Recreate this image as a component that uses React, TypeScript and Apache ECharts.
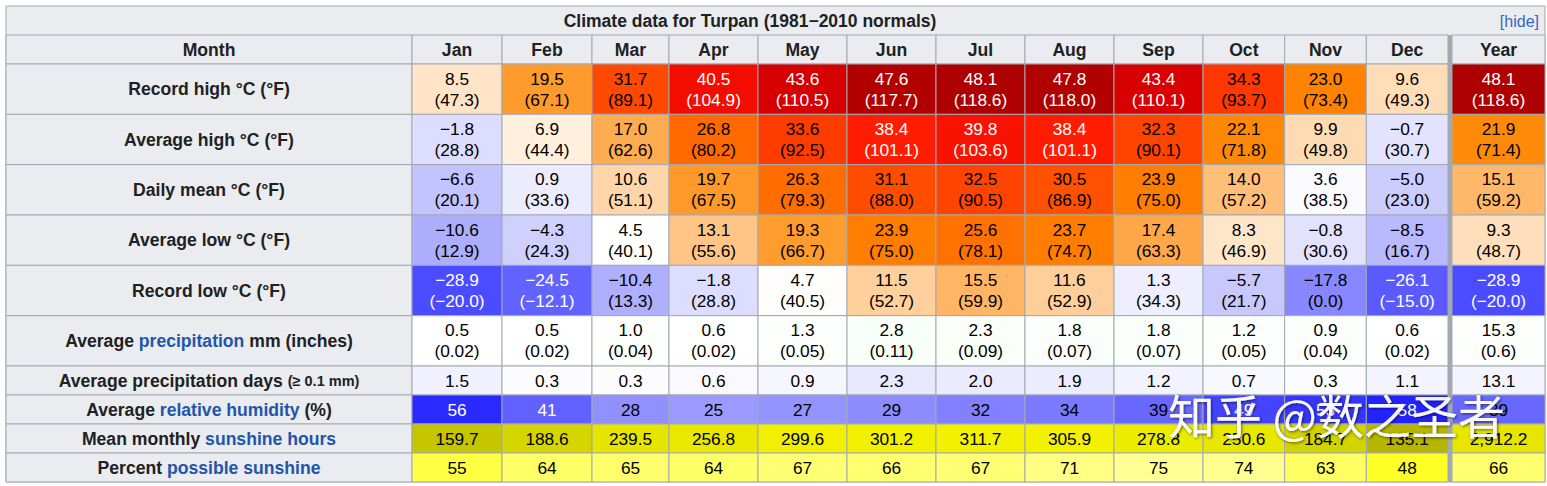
import React, { useEffect, useRef } from "react";
import * as echarts from "echarts";

// ---------------- data (12 months + Year as 13th entry) ----------------
const months = ["Jan", "Feb", "Mar", "Apr", "May", "Jun", "Jul", "Aug", "Sep", "Oct", "Nov", "Dec"];
const yearLabel = "Year";
const titleText = "Climate data for Turpan (1981\u22122010 normals)";

const recordHighC = [8.5, 19.5, 31.7, 40.5, 43.6, 47.6, 48.1, 47.8, 43.4, 34.3, 23.0, 9.6, 48.1];
const recordHighF = [47.3, 67.1, 89.1, 104.9, 110.5, 117.7, 118.6, 118.0, 110.1, 93.7, 73.4, 49.3, 118.6];
const avgHighC = [-1.8, 6.9, 17.0, 26.8, 33.6, 38.4, 39.8, 38.4, 32.3, 22.1, 9.9, -0.7, 21.9];
const avgHighF = [28.8, 44.4, 62.6, 80.2, 92.5, 101.1, 103.6, 101.1, 90.1, 71.8, 49.8, 30.7, 71.4];
const meanC = [-6.6, 0.9, 10.6, 19.7, 26.3, 31.1, 32.5, 30.5, 23.9, 14.0, 3.6, -5.0, 15.1];
const meanF = [20.1, 33.6, 51.1, 67.5, 79.3, 88.0, 90.5, 86.9, 75.0, 57.2, 38.5, 23.0, 59.2];
const avgLowC = [-10.6, -4.3, 4.5, 13.1, 19.3, 23.9, 25.6, 23.7, 17.4, 8.3, -0.8, -8.5, 9.3];
const avgLowF = [12.9, 24.3, 40.1, 55.6, 66.7, 75.0, 78.1, 74.7, 63.3, 46.9, 30.6, 16.7, 48.7];
const recordLowC = [-28.9, -24.5, -10.4, -1.8, 4.7, 11.5, 15.5, 11.6, 1.3, -5.7, -17.8, -26.1, -28.9];
const recordLowF = [-20.0, -12.1, 13.3, 28.8, 40.5, 52.7, 59.9, 52.9, 34.3, 21.7, 0.0, -15.0, -20.0];
const precipMm = [0.5, 0.5, 1.0, 0.6, 1.3, 2.8, 2.3, 1.8, 1.8, 1.2, 0.9, 0.6, 15.3];
const precipIn = [0.02, 0.02, 0.04, 0.02, 0.05, 0.11, 0.09, 0.07, 0.07, 0.05, 0.04, 0.02, 0.6];
const precipDays = [1.5, 0.3, 0.3, 0.6, 0.9, 2.3, 2.0, 1.9, 1.2, 0.7, 0.3, 1.1, 13.1];
const humidity = [56, 41, 28, 25, 27, 29, 32, 34, 39, 49, 53, 58, 39];
const sunHours = [159.7, 188.6, 239.5, 256.8, 299.6, 301.2, 311.7, 305.9, 278.8, 250.6, 184.7, 135.1, 2912.2];
const sunPercent = [55, 64, 65, 64, 67, 66, 67, 71, 75, 74, 63, 48, 66];

const rowLabels = [
  "Month",
  "Record high \u00b0C (\u00b0F)",
  "Average high \u00b0C (\u00b0F)",
  "Daily mean \u00b0C (\u00b0F)",
  "Average low \u00b0C (\u00b0F)",
  "Record low \u00b0C (\u00b0F)",
  "Average {a|precipitation} mm (inches)",
  "Average precipitation days {s|(\u2265 0.1 mm)}",
  "Average {a|relative humidity} (%)",
  "Mean monthly {a|sunshine hours}",
  "Percent {a|possible sunshine}",
];

// ---------------- styles / layout ----------------
const FONT = '"Liberation Sans", Arial, Helvetica, sans-serif';
const HEAD_BG = "#eaecf0";
const BORDER = "#a2a9b1";
const TEXT = "#202122";
const LINK = "#2255aa";
const FS = 17.3;
const FS_HEAD = 17.6;

// column groups (index 0 = label column, 1..12 months, 13 = Year)
const colGroups = [
  { x0: 6, x1: 412, cols: [0] },
  { x0: 412, x1: 592, cols: [1, 2] },
  { x0: 592, x1: 669, cols: [3] },
  { x0: 669, x1: 1203, cols: [4, 5, 6, 7, 8, 9] },
  { x0: 1203, x1: 1448, cols: [10, 11, 12] },
  { x0: 1452, x1: 1545, cols: [13] },
];
const rowGroups = [
  { y0: 35, y1: 64, rows: [0] },
  { y0: 64, y1: 366, rows: [1, 2, 3, 4, 5, 6] },
  { y0: 366, y1: 482, rows: [7, 8, 9, 10] },
];

// ---------------- colour scales ----------------
const clamp = (v: number, a: number, b: number) => Math.max(a, Math.min(b, v));
const rgb = (r: number, g: number, b: number) =>
  `rgb(${Math.round(clamp(r, 0, 255))},${Math.round(clamp(g, 0, 255))},${Math.round(clamp(b, 0, 255))})`;

function tempColor(c: number) {
  if (c <= 4.5) {
    const t = clamp((c + 42.75) / 47.25, 0, 1) * 255;
    return rgb(t, t, 255);
  }
  const g = 255 * clamp((42.5 - c) / 38, 0, 1);
  const b = 255 * clamp((22.6 - c) / 18.1, 0, 1);
  const r = c <= 39 ? 255 : 255 - (c - 39) * 8.9;
  return rgb(r, g, b);
}
const precipColor = (mm: number) => rgb(255 - mm * 2, 255, 255 - mm * 2);
const daysColor = (d: number) => rgb(255 - d * 10, 255 - d * 10, 255);
const humidColor = (h: number) => {
  const t = 255 - 3.64 * (h + 2.5);
  return rgb(t, t, 255);
};
const sunStops = [
  [0, 60], [135, 182], [160, 197], [190, 214], [240, 229], [260, 233], [300, 240], [320, 243], [420, 255],
];
function sunColor(h: number) {
  let x = 255;
  for (let i = 0; i < sunStops.length - 1; i++) {
    const [a, ca] = sunStops[i];
    const [b, cb] = sunStops[i + 1];
    if (h >= a && h <= b) {
      x = ca + ((h - a) / (b - a)) * (cb - ca);
      break;
    }
  }
  return rgb(x, x, 0);
}
const pctColor = (p: number) => rgb(255, 255, (p - 38) * 4);

const fmt = (v: number, d: number) => v.toFixed(d).replace("-", "\u2212");

type Cell = { t: string; bg: string; fg: string; bold: boolean };

function cellFor(r: number, c: number): Cell {
  if (c === 0) return { t: rowLabels[r], bg: HEAD_BG, fg: TEXT, bold: true };
  if (r === 0) return { t: c === 13 ? yearLabel : months[c - 1], bg: HEAD_BG, fg: TEXT, bold: true };
  const i = c - 1;
  const isYear = i === 12;
  const tempRows: [number[], number[]][] = [
    [recordHighC, recordHighF],
    [avgHighC, avgHighF],
    [meanC, meanF],
    [avgLowC, avgLowF],
    [recordLowC, recordLowF],
  ];
  if (r >= 1 && r <= 5) {
    const [cs, fs] = tempRows[r - 1];
    const v = cs[i];
    return {
      t: `${fmt(v, 1)}\n(${fmt(fs[i], 1)})`,
      bg: tempColor(v),
      fg: v >= 38 || v <= -21 ? "#ffffff" : "#000000",
      bold: false,
    };
  }
  if (r === 6) {
    const v = precipMm[i];
    return {
      t: `${fmt(v, 1)}\n(${fmt(precipIn[i], isYear ? 1 : 2)})`,
      bg: precipColor(isYear ? v / 12 : v),
      fg: "#000000",
      bold: false,
    };
  }
  if (r === 7) {
    const v = precipDays[i];
    return { t: fmt(v, 1), bg: daysColor(isYear ? v / 12 : v), fg: "#000000", bold: false };
  }
  if (r === 8) {
    const v = humidity[i];
    return { t: String(v), bg: humidColor(v), fg: v >= 40 ? "#ffffff" : "#000000", bold: false };
  }
  if (r === 9) {
    const v = sunHours[i];
    return {
      t: v.toLocaleString("en-US", { minimumFractionDigits: 1, maximumFractionDigits: 1 }),
      bg: sunColor(isYear ? v / 12 : v),
      fg: "#000000",
      bold: false,
    };
  }
  const v = sunPercent[i];
  return { t: String(v), bg: pctColor(v), fg: "#000000", bold: false };
}

function buildOption() {
  const grid: any[] = [];
  const xAxis: any[] = [];
  const yAxis: any[] = [];
  const series: any[] = [];
  colGroups.forEach((cg) => {
    rowGroups.forEach((rg) => {
      const gi = grid.length;
      grid.push({ left: cg.x0, top: rg.y0, width: cg.x1 - cg.x0, height: rg.y1 - rg.y0, containLabel: false });
      xAxis.push({ gridIndex: gi, type: "category", data: cg.cols.map((c) => `c${c}`), show: false });
      yAxis.push({ gridIndex: gi, type: "category", data: rg.rows.map((r) => `r${r}`), inverse: true, show: false });
      const data: any[] = [];
      const cells: Cell[] = [];
      cg.cols.forEach((c, xi) => {
        rg.rows.forEach((r, yi) => {
          cells.push(cellFor(r, c));
          data.push([xi, yi]);
        });
      });
      series.push({
        type: "custom",
        xAxisIndex: gi,
        yAxisIndex: gi,
        data,
        silent: true,
        renderItem: (params: any, api: any) => {
          const cell = cells[params.dataIndex];
          const p = api.coord([api.value(0), api.value(1)]);
          const s = api.size([1, 1]);
          const fs = cell.bold ? FS_HEAD : FS;
          return {
            type: "rect",
            shape: { x: p[0] - s[0] / 2, y: p[1] - s[1] / 2, width: s[0], height: s[1] },
            style: { fill: cell.bg, stroke: BORDER, lineWidth: 1 },
            textContent: {
              style: {
                text: cell.t,
                fill: cell.fg,
                fontFamily: FONT,
                fontSize: fs,
                fontWeight: cell.bold ? "bold" : "normal",
                lineHeight: 21,
                rich: {
                  a: { fill: LINK, fontFamily: FONT, fontSize: FS_HEAD, fontWeight: "bold" },
                  s: { fill: TEXT, fontFamily: FONT, fontSize: 14.5, fontWeight: "bold" },
                },
              },
            },
            textConfig: { position: "inside" },
          };
        },
      });
    });
  });

  return {
    animation: false,
    backgroundColor: "#ffffff",
    tooltip: { show: false },
    grid,
    xAxis,
    yAxis,
    series,
    graphic: [
      {
        type: "rect",
        z: -10,
        shape: { x: 6, y: 6, width: 1539, height: 476 },
        style: { fill: HEAD_BG, stroke: BORDER, lineWidth: 1 },
        silent: true,
      },
      {
        type: "rect",
        z: -5,
        shape: { x: 1448, y: 35, width: 4, height: 447 },
        style: { fill: BORDER },
        silent: true,
      },
      {
        type: "text",
        z: 10,
        x: 750,
        y: 21,
        style: {
          text: titleText,
          font: `bold 17.5px ${FONT}`,
          fill: TEXT,
          align: "center",
          verticalAlign: "middle",
          textAlign: "center",
          textVerticalAlign: "middle",
        },
        silent: true,
      },
      {
        type: "text",
        z: 10,
        x: 1539,
        y: 21,
        style: {
          text: "[hide]",
          font: `16px ${FONT}`,
          fill: "#3366cc",
          align: "right",
          verticalAlign: "middle",
          textAlign: "right",
          textVerticalAlign: "middle",
        },
        silent: true,
      },
      {
        type: "text",
        z: 100,
        x: 1168,
        y: 413,
        style: {
          text: "\u77e5\u4e4e @\u6570\u4e4b\u5723\u8005",
          font: `47px "Noto Sans CJK SC"`,
          fill: "rgba(255,255,255,0.95)",
          align: "left",
          verticalAlign: "middle",
          textAlign: "left",
          textVerticalAlign: "middle",
          textShadowColor: "rgba(0,0,0,0.6)",
          textShadowBlur: 3,
          textShadowOffsetX: 1,
          textShadowOffsetY: 1,
        },
        silent: true,
      },
    ],
  };
}

export default function App() {
  const ref = useRef<HTMLDivElement>(null);
  useEffect(() => {
    document.body.style.margin = "0";
    document.body.style.overflow = "hidden";
    if (!ref.current) return;
    const chart = echarts.init(ref.current, null, { renderer: "svg", width: 1547, height: 486 });
    chart.setOption(buildOption() as any);
    return () => chart.dispose();
  }, []);
  return <div ref={ref} style={{ width: 1547, height: 486, background: "#ffffff" }} />;
}
